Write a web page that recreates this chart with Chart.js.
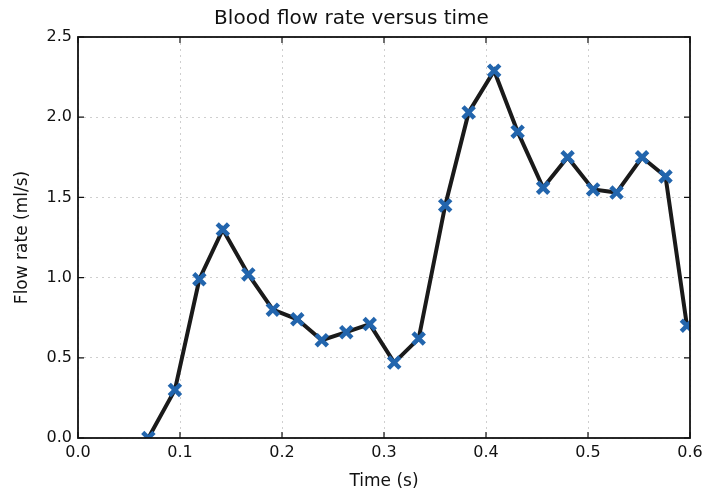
<!DOCTYPE html>
<html>
<head>
<meta charset="utf-8">
<script src="https://cdn.jsdelivr.net/npm/chart.js@4.4.0/dist/chart.umd.min.js"></script>
<style>
  html, body { margin: 0; padding: 0; background: #fff; }
  #wrap { width: 703px; height: 492px; }
</style>
</head>
<body>
<div id="wrap"><canvas id="flowChart" width="703" height="492"></canvas></div>
<script>
const times = [0.069, 0.095, 0.119, 0.142, 0.167, 0.191, 0.215, 0.239, 0.263, 0.286, 0.310, 0.334,
               0.360, 0.383, 0.408, 0.431, 0.456, 0.480, 0.505, 0.528, 0.553, 0.576, 0.597];
const flowRates = [0.00, 0.30, 0.99, 1.30, 1.02, 0.80, 0.74, 0.61, 0.66, 0.71, 0.47, 0.62,
                   1.45, 2.03, 2.29, 1.91, 1.56, 1.75, 1.55, 1.53, 1.75, 1.63, 0.70];
const xTicks = [0.0, 0.1, 0.2, 0.3, 0.4, 0.5, 0.6];
const yTicks = [0.0, 0.5, 1.0, 1.5, 2.0, 2.5];

const FONT = "'DejaVu Sans', sans-serif";

// matplotlib-style frame with inward ticks on all four sides
const frameTicks = {
    id: 'frameTicks',
    afterDraw(chart) {
        const ctx = chart.ctx;
        const area = chart.chartArea;
        const x = chart.scales.x, y = chart.scales.y;
        ctx.save();
        ctx.strokeStyle = '#111';
        ctx.lineWidth = 1.8;
        ctx.strokeRect(area.left, area.top, area.right - area.left, area.bottom - area.top);
        ctx.lineWidth = 1.2;
        const len = 6;
        xTicks.forEach(v => {
            const px = x.getPixelForValue(v);
            ctx.beginPath();
            ctx.moveTo(px, area.bottom); ctx.lineTo(px, area.bottom - len);
            ctx.moveTo(px, area.top); ctx.lineTo(px, area.top + len);
            ctx.stroke();
        });
        yTicks.forEach(v => {
            const py = y.getPixelForValue(v);
            ctx.beginPath();
            ctx.moveTo(area.left, py); ctx.lineTo(area.left + len, py);
            ctx.moveTo(area.right, py); ctx.lineTo(area.right - len, py);
            ctx.stroke();
        });
        ctx.restore();
    }
};

const points = times.map((t, i) => ({ x: t, y: flowRates[i] }));

new Chart(document.getElementById('flowChart'), {
    type: 'line',
    data: {
        datasets: [{
            data: points,
            borderColor: '#1a1a1a',
            borderWidth: 4,
            tension: 0,
            pointStyle: 'crossRot',
            pointRadius: 8,
            pointBorderWidth: 4.5,
            pointBorderColor: '#2265ad',
            pointBackgroundColor: '#2265ad',
            fill: false
        }]
    },
    options: {
        responsive: false,
        animation: false,
        layout: { padding: { left: 0, right: 0, top: 0, bottom: 0 } },
        plugins: {
            legend: { display: false },
            tooltip: { enabled: false },
            title: {
                display: true,
                text: 'Blood flow rate versus time',
                color: '#111',
                font: { family: FONT, size: 20, weight: 'normal' },
                padding: { top: 7, bottom: 6 }
            }
        },
        scales: {
            x: {
                type: 'linear',
                min: 0, max: 0.6,
                afterBuildTicks: s => { s.ticks = xTicks.map(v => ({ value: v })); },
                afterFit: s => { s.height = 54; s.paddingRight = 13; },
                ticks: {
                    color: '#111',
                    font: { family: FONT, size: 16 },
                    padding: 5,
                    maxRotation: 0,
                    callback: v => v.toFixed(1)
                },
                grid: { color: '#cfcfcf', lineWidth: 1, drawTicks: false },
                border: { display: false, dash: [2, 4] },
                title: {
                    display: true,
                    text: 'Time (s)',
                    color: '#111',
                    font: { family: FONT, size: 17 },
                    padding: { top: 4, bottom: 0 }
                }
            },
            y: {
                type: 'linear',
                min: 0, max: 2.5,
                afterBuildTicks: s => { s.ticks = yTicks.map(v => ({ value: v })); },
                afterFit: s => { s.width = 78; },
                ticks: {
                    color: '#111',
                    font: { family: FONT, size: 16 },
                    padding: 6,
                    callback: v => v.toFixed(1)
                },
                grid: { color: '#cfcfcf', lineWidth: 1, drawTicks: false },
                border: { display: false, dash: [2, 4] },
                title: {
                    display: true,
                    text: 'Flow rate (ml/s)',
                    color: '#111',
                    font: { family: FONT, size: 17 },
                    padding: { top: 12, bottom: 0 }
                }
            }
        }
    },
    plugins: [frameTicks]
});
</script>
</body>
</html>
